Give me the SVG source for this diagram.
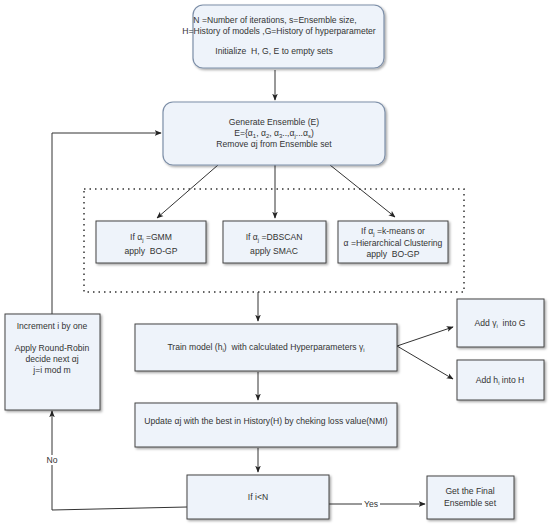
<svg xmlns="http://www.w3.org/2000/svg" width="550" height="525" viewBox="0 0 550 525">
<defs>
<filter id="sh" x="-10%" y="-10%" width="130%" height="130%">
<feDropShadow dx="1.5" dy="1.5" stdDeviation="0.8" flood-color="#000" flood-opacity="0.35"/>
</filter>
<marker id="ah" viewBox="0 0 10 10" refX="9" refY="5" markerWidth="7" markerHeight="7" orient="auto" markerUnits="userSpaceOnUse">
<path d="M0,1 L10,5 L0,9 L2.5,5 Z" fill="#222"/>
</marker>
</defs>
<style>
.rb{fill:#eef3fa;stroke:#7d8fa8;stroke-width:1.2;filter:url(#sh)}
.bx{fill:#eef3fa;stroke:#444;stroke-width:1;filter:url(#sh)}
text{font-family:"Liberation Sans",Arial,sans-serif;font-size:8.6px;fill:#333;text-anchor:middle}
.ar{fill:none;stroke:#333;stroke-width:1;marker-end:url(#ah)}
.sub{font-size:6px}
</style>
<rect width="550" height="525" fill="#fff"/>
<g id="connectors">
<path class="ar" d="M275,70 L275,100"/>
<path class="ar" d="M218,165 L157,218"/>
<path class="ar" d="M275,165 L275,218"/>
<path class="ar" d="M330,165 L395,217"/>
<path class="ar" d="M258,292 L258,321"/>
<path class="ar" d="M258,372 L258,400"/>
<path class="ar" d="M258,448 L258,472"/>
<path class="ar" d="M397,346 L453,327"/>
<path class="ar" d="M397,346 L453,379"/>
<path class="ar" d="M329,504 L425,504"/>
<path class="ar" d="M187,507 L52,510 L52,411"/>
<path class="ar" d="M52,314 L52,133 L161,133"/>
<rect x="362" y="499" width="18" height="10" fill="#fff"/>
<text x="371" y="507">Yes</text>
<rect x="45" y="455" width="14" height="10" fill="#fff"/>
<text x="52" y="463">No</text>
</g>
<g id="group-dotted">
<rect x="84" y="189" width="380" height="103" fill="none" stroke="#333" stroke-width="1.5" stroke-dasharray="1.5,4"/>
</g>
<g id="node-init">
<rect class="rb" x="193" y="5" width="191" height="63" rx="10"/>
<text x="275" y="23">N =Number of iterations, s=Ensemble size,</text>
<text x="279" y="34">H=History of models ,G=History of hyperparameter</text>
<text x="274" y="54">Initialize &#160;H, G, E to empty sets</text>
</g>
<g id="node-generate">
<rect class="rb" x="163" y="102" width="222" height="63" rx="10"/>
<text x="274" y="125">Generate Ensemble (E)</text>
<text x="274" y="136">E={α<tspan class="sub" dy="2">1</tspan><tspan dy="-2">, α</tspan><tspan class="sub" dy="2">2</tspan><tspan dy="-2">, α</tspan><tspan class="sub" dy="2">3</tspan><tspan dy="-2">..,α</tspan><tspan class="sub" dy="2">j</tspan><tspan dy="-2">...α</tspan><tspan class="sub" dy="2">s</tspan><tspan dy="-2">)</tspan></text>
<text x="274" y="147">Remove αj from Ensemble set</text>
</g>
<g id="node-gmm">
<rect class="bx" x="96" y="221" width="110" height="42"/>
<text x="151" y="240">If α<tspan class="sub" dy="2">j</tspan><tspan dy="-2"> =GMM</tspan></text>
<text x="151" y="254">apply &#160;BO-GP</text>
</g>
<g id="node-dbscan">
<rect class="bx" x="223" y="221" width="103" height="42"/>
<text x="274" y="240">If α<tspan class="sub" dy="2">j</tspan><tspan dy="-2"> =DBSCAN</tspan></text>
<text x="274" y="254">apply SMAC</text>
</g>
<g id="node-kmeans">
<rect class="bx" x="338" y="221" width="110" height="42"/>
<text x="393" y="234">If α<tspan class="sub" dy="2">j</tspan><tspan dy="-2"> =k-means or</tspan></text>
<text x="393" y="246">α =Hierarchical Clustering</text>
<text x="393" y="257">apply &#160;BO-GP</text>
</g>
<g id="node-train">
<rect class="bx" x="135" y="324" width="262" height="47"/>
<text x="266" y="350">Train model (h<tspan class="sub" dy="2">i</tspan><tspan dy="-2">) &#160;with calculated Hyperparameters γ</tspan><tspan class="sub" dy="2">i</tspan></text>
</g>
<g id="node-update">
<rect class="bx" x="135" y="403" width="262" height="44"/>
<text x="266" y="424">Update αj with the best in History(H) by cheking loss value(NMI)</text>
</g>
<g id="node-if">
<rect class="bx" x="187" y="475" width="142" height="44"/>
<text x="258" y="500">If i&lt;N</text>
</g>
<g id="node-final">
<rect class="bx" x="427" y="476" width="87" height="43"/>
<text x="470" y="494">Get the Final</text>
<text x="470" y="506">Ensemble set</text>
</g>
<g id="node-addg">
<rect class="bx" x="457" y="299" width="87" height="48"/>
<text x="500" y="326">Add γ<tspan class="sub" dy="2">i</tspan><tspan dy="-2"> &#160;into G</tspan></text>
</g>
<g id="node-addh">
<rect class="bx" x="457" y="360" width="87" height="40"/>
<text x="500" y="383">Add h<tspan class="sub" dy="2">i</tspan><tspan dy="-2"> into H</tspan></text>
</g>
<g id="node-increment">
<rect class="bx" x="5" y="314" width="95" height="96"/>
<text x="52" y="329">Increment i by one</text>
<text x="52" y="351">Apply Round-Robin</text>
<text x="52" y="362">decide next αj</text>
<text x="52" y="373">j=i mod m</text>
</g>
</svg>
